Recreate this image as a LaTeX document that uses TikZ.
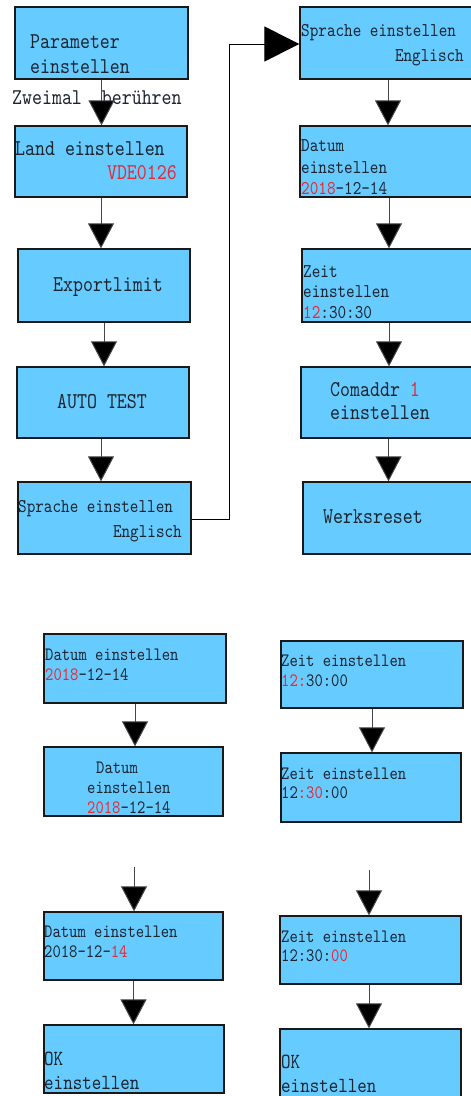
\documentclass[tikz,border=0pt]{standalone}
\usepackage{fontspec}
\newfontfamily\monof{lmmono10-regular}[Extension=.otf, FakeStretch=0.84]
\usetikzlibrary{arrows.meta}
\definecolor{boxblue}{RGB}{102,204,255}
\definecolor{redt}{RGB}{232,40,52}
\definecolor{textc}{RGB}{28,36,48}
\definecolor{linec}{RGB}{70,70,70}
\newcommand{\rd}[1]{\textcolor{redt}{#1}}
\tikzset{
  box/.style={draw=black!90, fill=boxblue, line width=1.3pt, inner sep=0pt, rectangle},
  txt/.style={anchor=base west, inner sep=0pt, text=textc},
  txte/.style={anchor=base east, inner sep=0pt, text=textc},
  bigt/.style={font=\monof\fontsize{22.6}{26}\selectfont},
  smt/.style={font=\monof\fontsize{19.5}{23}\selectfont},
  tnt/.style={font=\monof\fontsize{18.9}{22}\selectfont},
  okt/.style={font=\monof\fontsize{21.6}{25}\selectfont},
  arr/.style={draw=linec, line width=1pt, -{Triangle[length=25pt,width=26pt,fill=black]}},
  bigarr/.style={draw=black, line width=1pt, -{Triangle[length=35pt,width=35pt,fill=black]}}
}
\begin{document}
\begin{tikzpicture}[x=1pt,y=-1pt]
\useasboundingbox (0,0) rectangle (471,1096);
\clip (0,0) rectangle (471,1096);
% boxes
\node[box, minimum width=173pt, minimum height=72pt] (P) at (101.5,43) {};
\node[box, minimum width=172pt, minimum height=71pt] (L) at (101,161.5) {};
\node[box, minimum width=172pt, minimum height=73pt] (E) at (104,285.5) {};
\node[box, minimum width=172pt, minimum height=71pt] (A) at (103,402.5) {};
\node[box, minimum width=173pt, minimum height=72pt] (S1) at (104.5,518) {};
\node[box, minimum width=176pt, minimum height=72pt] (S2) at (388,43) {};
\node[box, minimum width=176pt, minimum height=71pt] (D) at (388,161.5) {};
\node[box, minimum width=174pt, minimum height=73pt] (Z) at (389,285.5) {};
\node[box, minimum width=175pt, minimum height=71pt] (C) at (388.5,402.5) {};
\node[box, minimum width=173pt, minimum height=72pt] (W) at (389.5,518) {};
\node[box, minimum width=182pt, minimum height=69pt] (B1) at (135,668.5) {};
\node[box, minimum width=179pt, minimum height=69pt] (B2) at (133.5,781.5) {};
\node[box, minimum width=179pt, minimum height=68pt] (B3) at (133.5,946) {};
\node[box, minimum width=180pt, minimum height=68pt] (B4) at (134,1059) {};
\node[box, minimum width=182pt, minimum height=67pt] (R1) at (372,674.5) {};
\node[box, minimum width=180pt, minimum height=69pt] (R2) at (371,787.5) {};
\node[box, minimum width=181pt, minimum height=68pt] (R3) at (370.5,950) {};
\node[box, minimum width=181pt, minimum height=71pt] (R4) at (370.5,1064.5) {};
% texts
\node[txt,bigt] (tP1) at (30,48) {Parameter};
\node[txt,bigt] (tP2) at (30,73) {einstellen};
\node[txt,bigt] (tZw) at (12,104) {Zweimal\ \ berühren};
\node[txt,bigt] (tL1) at (15,155) {Land einstellen};
\node[txte,bigt,text=redt] (tL2) at (177,179) {VDE0126};
\node[txt,bigt] (tE) at (53,291) {Exportlimit};
\node[txt,bigt] (tA) at (57,408) {AUTO TEST};
\node[txt,smt] (tS11) at (18,512) {Sprache einstellen};
\node[txte,smt] (tS12) at (182,537) {Englisch};
\node[txt,smt] (tS21) at (301,36) {Sprache einstellen};
\node[txte,smt] (tS22) at (464,61) {Englisch};
\node[txt,smt] (tD1) at (301,151) {Datum};
\node[txt,smt] (tD2) at (301,173) {einstellen};
\node[txt,smt] (tD3) at (301,194) {\rd{2018}-12-14};
\node[txt,smt] (tZ1) at (303,277) {Zeit};
\node[txt,smt] (tZ2) at (303,297) {einstellen};
\node[txt,smt] (tZ3) at (303,318) {\rd{12}:30:30};
\node[txt,bigt] (tC1) at (330,396) {Comaddr \rd{1}};
\node[txt,bigt] (tC2) at (330,419) {einstellen};
\node[txt,bigt] (tW) at (323,523) {Werksreset};
\node[txt,tnt] (tB11) at (45,660) {Datum einstellen};
\node[txt,tnt] (tB12) at (45,680) {\rd{2018}-12-14};
\node[txt,tnt] (tB21) at (96,773) {Datum};
\node[txt,tnt] (tB22) at (87,793) {einstellen};
\node[txt,tnt] (tB23) at (87,813) {\rd{2018}-12-14};
\node[txt,tnt] (tB31) at (44,937) {Datum einstellen};
\node[txt,tnt] (tB32) at (44,957) {2018-12-\rd{14}};
\node[txt,okt] (tB41) at (44,1065) {OK};
\node[txt,okt] (tB42) at (44,1089) {einstellen};
\node[txt,tnt] (tR11) at (281,666) {Zeit einstellen};
\node[txt,tnt] (tR12) at (281,686) {\rd{12:}30:00};
\node[txt,tnt] (tR21) at (281,779) {Zeit einstellen};
\node[txt,tnt] (tR22) at (281,798) {12\rd{:30}:00};
\node[txt,tnt] (tR31) at (281,942) {Zeit einstellen};
\node[txt,tnt] (tR32) at (281,961) {12:30:\rd{00}};
\node[txt,okt] (tR41) at (281,1068) {OK};
\node[txt,okt] (tR42) at (281,1092) {einstellen};
% free start points
\coordinate (fB) at (134,867);
\coordinate (fR) at (369,870);
\coordinate (k1) at (229,519);
\coordinate (k2) at (229,44);
% connectors
\draw[arr] (P.south) -- (P.south |- L.north);
\draw[arr] (L.south) -- (L.south |- E.north);
\draw[arr] (E.south) -- (E.south |- A.north);
\draw[arr] ([xshift=-2pt]A.south) -- ([xshift=-2pt]A.south |- S1.north);
\draw[bigarr] (S1.east |- k1) -- (k1) -- (k2) -- (k2 -| S2.west);
\draw[arr] (S2.south) -- (S2.south |- D.north);
\draw[arr] (D.south -| Z.south) -- (Z.north);
\draw[arr] (Z.south) -- (Z.south |- C.north);
\draw[arr] (C.south) -- (C.south |- W.north);
\draw[arr] (B1.south) -- (B1.south |- B2.north);
\draw[arr] (fB) -- (fB |- B3.north);
\draw[arr] (B3.south) -- (B3.south |- B4.north);
\draw[arr] (R1.south) -- (R1.south |- R2.north);
\draw[arr] (fR) -- (fR |- R3.north);
\draw[arr] (R3.south -| fR) -- (fR |- R4.north);
\end{tikzpicture}
\end{document}
